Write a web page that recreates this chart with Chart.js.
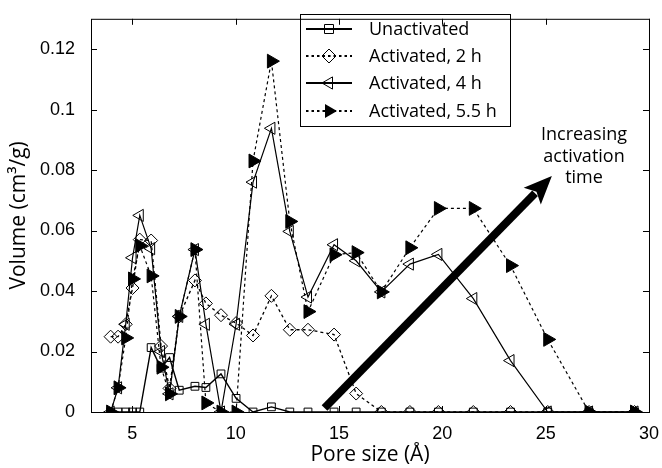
<!DOCTYPE html>
<html>
<head>
<meta charset="utf-8">
<script src="https://cdn.jsdelivr.net/npm/chart.js@4"></script>
<style>
html, body { margin: 0; padding: 0; background: #fff; }
#wrap { width: 662px; height: 468px; }
</style>
</head>
<body>
<div id="wrap"><canvas id="chart" width="662" height="468"></canvas></div>
<script>
// pore sizes (Angstrom) shared by all samples
const poreSize = [3.95, 4.31, 4.68, 5.01, 5.36, 5.91, 6.39, 6.8, 7.27, 8.03, 8.56, 9.29, 10.02, 10.84, 11.73, 12.62, 13.5, 14.76, 15.83, 17.05, 18.43, 19.81, 21.5, 23.3, 25.1, 27.1, 29.3];

// pore volume (cm3/g)
const unactivated = [0, 0, 0, 0, 0, 0.0213, 0.0145, 0.018, 0.0072, 0.0085, 0.0081, 0.0126, 0.0045, 0, 0.0017, 0, 0, 0, 0, 0, 0, 0, 0, 0, 0, 0, 0];
const activated2h = [0.0249, 0.0249, 0.029, 0.041, 0.057, 0.0567, 0.0218, 0.0078, 0.0316, 0.0435, 0.0359, 0.032, 0.0294, 0.0253, 0.0384, 0.0272, 0.0272, 0.0256, 0.0061, 0, 0, 0, 0, 0, 0, 0, 0];
const activated4h = [0, 0.008, 0.029, 0.051, 0.065, 0.054, 0.020, 0.006, 0.0316, 0.0537, 0.029, 0, 0.029, 0.076, 0.0938, 0.0597, 0.038, 0.0553, 0.050, 0.0397, 0.0489, 0.0521, 0.0375, 0.017, 0, 0, 0];
const activated55h = [0, 0.008, 0.0245, 0.044, 0.055, 0.045, 0.0148, 0.006, 0.0316, 0.0537, 0.003, 0, 0, 0.083, 0.116, 0.063, 0.0332, 0.052, 0.0527, 0.0397, 0.0543, 0.0673, 0.0673, 0.0484, 0.024, 0, 0];

const seriesNames = ['Unactivated', 'Activated, 2 h', 'Activated, 4 h', 'Activated, 5.5 h'];

const xTicks = [5, 10, 15, 20, 25, 30];
const yTicks = [0, 0.02, 0.04, 0.06, 0.08, 0.1, 0.12];
const yTickLabels = ['0', '0.02', '0.04', '0.06', '0.08', '0.1', '0.12'];

// arrow annotation, in data units
const arrowFrom = [14.3, 0.0013];
const arrowTo = [25.3, 0.078];
const arrowText = ['Increasing', 'activation', 'time'];

function pts(ys) {
  return ys.map((v, i) => ({ x: poreSize[i], y: v }));
}

const clear = 'rgba(0,0,0,0)';

function drawMarker(ctx, style, x, y) {
  ctx.save();
  ctx.lineWidth = 1;
  ctx.strokeStyle = '#000';
  ctx.beginPath();
  if (style === 'square') {
    ctx.rect(x - 4.5, y - 4.5, 9, 9);
    ctx.stroke();
  } else if (style === 'diamond') {
    ctx.moveTo(x, y - 7); ctx.lineTo(x + 7, y); ctx.lineTo(x, y + 7); ctx.lineTo(x - 7, y); ctx.closePath();
    ctx.stroke();
  } else if (style === 'left') {
    ctx.moveTo(x - 7, y); ctx.lineTo(x + 3.5, y - 6.1); ctx.lineTo(x + 3.5, y + 6.1); ctx.closePath();
    ctx.stroke();
  } else {
    ctx.moveTo(x + 8, y); ctx.lineTo(x - 4, y - 7); ctx.lineTo(x - 4, y + 7); ctx.closePath();
    ctx.fillStyle = '#000';
    ctx.fill();
  }
  ctx.restore();
}

const extras = {
  id: 'extras',
  afterDraw(chart) {
    const { ctx, chartArea: a, scales: { x, y } } = chart;
    ctx.save();
    ctx.strokeStyle = '#000';
    ctx.lineWidth = 1;
    ctx.strokeRect(a.left + 0.5, a.top + 0.5, a.right - a.left, a.bottom - a.top);

    // inward ticks on all four sides
    ctx.beginPath();
    xTicks.forEach(v => {
      const px = Math.round(x.getPixelForValue(v)) + 0.5;
      ctx.moveTo(px, a.bottom); ctx.lineTo(px, a.bottom - 6);
      ctx.moveTo(px, a.top); ctx.lineTo(px, a.top + 6);
    });
    yTicks.forEach(v => {
      const py = Math.round(y.getPixelForValue(v)) + 0.5;
      ctx.moveTo(a.left, py); ctx.lineTo(a.left + 6, py);
      ctx.moveTo(a.right, py); ctx.lineTo(a.right - 6, py);
    });
    ctx.stroke();

    // big arrow
    const x0 = x.getPixelForValue(arrowFrom[0]), y0 = y.getPixelForValue(arrowFrom[1]);
    const x1 = x.getPixelForValue(arrowTo[0]), y1 = y.getPixelForValue(arrowTo[1]);
    const ang = Math.atan2(y1 - y0, x1 - x0);
    const headLen = 28, headHalf = 12;
    const bx = x1 - Math.cos(ang) * headLen, by = y1 - Math.sin(ang) * headLen;
    ctx.beginPath();
    ctx.lineWidth = 8;
    ctx.lineCap = 'butt';
    ctx.moveTo(x0, y0);
    ctx.lineTo(bx + Math.cos(ang) * 4, by + Math.sin(ang) * 4);
    ctx.stroke();
    ctx.beginPath();
    ctx.fillStyle = '#000';
    ctx.moveTo(x1, y1);
    ctx.lineTo(bx + Math.sin(ang) * headHalf, by - Math.cos(ang) * headHalf);
    ctx.lineTo(bx + Math.cos(ang) * 6, by + Math.sin(ang) * 6);
    ctx.lineTo(bx - Math.sin(ang) * headHalf, by + Math.cos(ang) * headHalf);
    ctx.closePath();
    ctx.fill();

    ctx.font = '18px "Open Sans"';
    ctx.textAlign = 'center';
    ctx.textBaseline = 'middle';
    arrowText.forEach((t, i) => ctx.fillText(t, 584, 135 + i * 21.5));

    // legend box
    ctx.lineWidth = 1;
    ctx.strokeRect(300.5, 14.5, 210, 112);
    const rowY = [29, 56, 83, 111];
    const dashes = [[], [2.5, 3], [], [2.5, 3]];
    const marks = ['square', 'diamond', 'left', 'right'];
    ctx.textAlign = 'left';
    ctx.font = '18px "Open Sans"';
    rowY.forEach((ry, i) => {
      ctx.beginPath();
      ctx.lineWidth = 2;
      ctx.setLineDash(dashes[i]);
      ctx.moveTo(306, ry); ctx.lineTo(352, ry);
      ctx.stroke();
      ctx.setLineDash([]);
      drawMarker(ctx, marks[i], 329, ry);
      ctx.fillStyle = '#000';
      ctx.fillText(seriesNames[i], 369, ry + 1);
    });
    ctx.restore();
  }
};

const ctx = document.getElementById('chart').getContext('2d');
new Chart(ctx, {
  type: 'line',
  data: {
    datasets: [
      {
        label: seriesNames[0], data: pts(unactivated),
        borderColor: '#000', borderWidth: 1.4,
        pointStyle: 'rect', pointRadius: 5.5, pointBorderWidth: 1,
        pointBackgroundColor: clear, pointBorderColor: '#000'
      },
      {
        label: seriesNames[1], data: pts(activated2h),
        borderColor: '#000', borderWidth: 1.3, borderDash: [3, 3],
        pointStyle: 'rectRot', pointRadius: 6.5, pointBorderWidth: 1,
        pointBackgroundColor: clear, pointBorderColor: '#000'
      },
      {
        label: seriesNames[2], data: pts(activated4h),
        borderColor: '#000', borderWidth: 1.2,
        pointStyle: 'triangle', pointRotation: -90, pointRadius: 7, pointBorderWidth: 1,
        pointBackgroundColor: clear, pointBorderColor: '#000'
      },
      {
        label: seriesNames[3], data: pts(activated55h),
        borderColor: '#000', borderWidth: 1.2, borderDash: [3, 3],
        pointStyle: 'triangle', pointRotation: 90, pointRadius: 8, pointBorderWidth: 1,
        pointBackgroundColor: '#000', pointBorderColor: '#000'
      }
    ]
  },
  options: {
    responsive: false,
    animation: false,
    layout: { padding: { top: 12, right: 13, left: 0, bottom: 0 } },
    plugins: { legend: { display: false }, tooltip: { enabled: false } },
    scales: {
      x: {
        type: 'linear', min: 3, max: 30,
        afterBuildTicks: s => { s.ticks = xTicks.map(v => ({ value: v })); },
        afterFit: s => { s.height = 56; },
        grid: { display: false },
        border: { display: false },
        ticks: {
          color: '#000', padding: 3, maxRotation: 0,
          font: { family: '"Liberation Sans"', size: 18 },
          callback: v => String(v)
        },
        title: {
          display: true, text: 'Pore size (Å)', color: '#000',
          font: { family: '"Open Sans"', size: 21 },
          padding: { top: 0, bottom: 0 }
        }
      },
      y: {
        type: 'linear', min: 0, max: 0.13,
        afterBuildTicks: s => { s.ticks = yTicks.map(v => ({ value: v })); },
        afterFit: s => { s.width = 91; },
        grid: { display: false },
        border: { display: false },
        ticks: {
          color: '#000', padding: 8,
          font: { family: '"Liberation Sans"', size: 18 },
          callback: (v, i) => yTickLabels[i]
        },
        title: {
          display: true, text: 'Volume (cm³/g)', color: '#000',
          font: { family: '"Open Sans"', size: 21 },
          padding: { top: 6, bottom: 0 }
        }
      }
    }
  },
  plugins: [extras]
});
</script>
</body>
</html>
